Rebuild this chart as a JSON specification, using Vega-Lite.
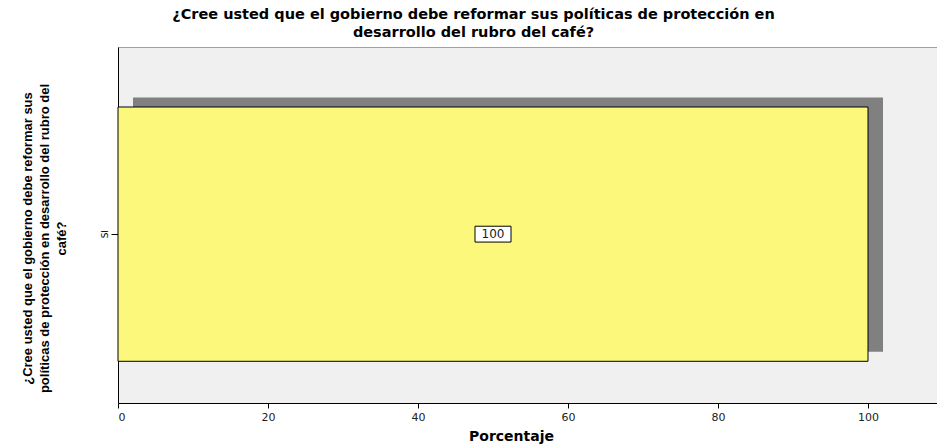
{
  "$schema": "https://vega.github.io/schema/vega-lite/v6.json",
  "autosize": {"type": "none"},
  "padding": {"left": 118, "top": 47, "right": 0, "bottom": 42},
  "width": 819,
  "height": 356,
  "background": "white",
  "config": {
    "view": {"fill": "#f0f0f0", "stroke": "#a0a0a0", "strokeWidth": 1}
  },
  "title": {
    "text": ["¿Cree usted que el gobierno debe reformar sus políticas de protección en", "desarrollo del rubro del café?"],
    "anchor": "middle",
    "frame": "group",
    "dx": -54,
    "offset": 7,
    "font": "DejaVu Sans",
    "fontWeight": "bold",
    "fontSize": 14.5,
    "lineHeight": 17.5,
    "color": "black"
  },
  "data": {"values": [{"respuesta": "SI", "Porcentaje": 100}]},
  "encoding": {
    "y": {
      "field": "respuesta",
      "type": "nominal",
      "scale": {"paddingInner": 0, "paddingOuter": 0.2, "align": 0.59},
      "axis": {
        "title": ["¿Cree usted que el gobierno debe reformar sus", "políticas de protección en desarrollo del rubro del", "café?"],
        "titleFont": "Liberation Sans",
        "titleFontWeight": "bold",
        "titleFontSize": 13,
        "titleLineHeight": 17,
        "titleColor": "black",
        "titlePadding": 32,
        "titleY": 191,
        "labelAngle": -90,
        "labelFont": "DejaVu Sans",
        "labelFontSize": 9,
        "labelColor": "black",
        "labelPadding": 2,
        "tickSize": 7,
        "tickColor": "black",
        "domainColor": "black",
        "grid": false
      }
    }
  },
  "layer": [
    {
      "mark": {"type": "bar", "color": "#808080", "xOffset": 15, "yOffset": -9.5},
      "encoding": {
        "x": {
          "field": "Porcentaje",
          "type": "quantitative",
          "scale": {"domain": [0, 109.2], "nice": false, "zero": true},
          "axis": {
            "title": "Porcentaje",
            "titleFont": "DejaVu Sans",
            "titleFontWeight": "bold",
            "titleFontSize": 14,
            "titleColor": "black",
            "titlePadding": 7,
            "titleX": 393,
            "values": [0, 20, 40, 60, 80, 100],
            "labelFont": "DejaVu Sans",
            "labelFontSize": 11,
            "labelColor": "#222222",
            "labelPadding": 3,
            "tickSize": 5,
            "tickColor": "black",
            "domainColor": "black",
            "grid": false
          }
        }
      }
    },
    {
      "mark": {"type": "bar", "color": "#fbf87c", "stroke": "black", "strokeWidth": 1},
      "encoding": {
        "x": {"field": "Porcentaje", "type": "quantitative"}
      }
    },
    {
      "transform": [{"calculate": "datum.Porcentaje / 2", "as": "medio"}],
      "mark": {"type": "point", "shape": "M-1,-0.44L1,-0.44L1,0.44L-1,0.44Z", "size": 1296, "filled": true, "fill": "white", "stroke": "black", "strokeWidth": 1, "opacity": 1},
      "encoding": {
        "x": {"field": "medio", "type": "quantitative"}
      }
    },
    {
      "transform": [{"calculate": "datum.Porcentaje / 2", "as": "medio"}],
      "mark": {"type": "text", "font": "DejaVu Sans", "fontSize": 12, "color": "#222222", "baseline": "middle", "align": "center"},
      "encoding": {
        "x": {"field": "medio", "type": "quantitative"},
        "text": {"field": "Porcentaje", "type": "quantitative"}
      }
    }
  ]
}
